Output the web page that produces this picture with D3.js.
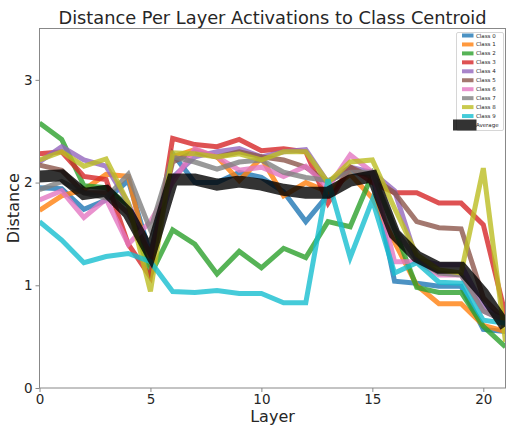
<!DOCTYPE html>
<html>
<head>
<meta charset="utf-8">
<script src="https://cdn.jsdelivr.net/npm/d3@7"></script>
<style>
  html, body { margin: 0; padding: 0; background: #fff; }
  svg { display: block; font-family: "DejaVu Sans", sans-serif; }
</style>
</head>
<body>
<svg id="chart" width="507" height="425"></svg>
<script>
// Layer index along the network
const layers = d3.range(0, 22);

// Distance of each class's layer activations to its centroid
const class0 = [1.95, 1.94, 1.74, 1.83, 2.02, 1.30, 2.28, 2.00, 2.00, 2.10, 2.05, 1.91, 1.62, 1.88, 2.10, 2.08, 1.04, 1.02, 0.99, 0.99, 0.57, 0.55];
const class1 = [1.73, 1.87, 1.93, 2.08, 2.06, 1.18, 2.25, 2.32, 2.25, 2.02, 2.24, 1.87, 2.00, 1.91, 2.08, 1.85, 1.42, 1.00, 0.82, 0.82, 0.61, 0.55];
const class2 = [2.58, 2.42, 1.97, 1.95, 1.78, 1.10, 1.54, 1.40, 1.11, 1.33, 1.17, 1.36, 1.27, 1.62, 1.57, 2.08, 1.55, 0.98, 0.93, 0.93, 0.60, 0.40];
const class3 = [2.28, 2.30, 2.06, 2.03, 1.40, 1.08, 2.43, 2.37, 2.35, 2.42, 2.31, 2.33, 2.30, 1.80, 2.15, 2.00, 1.90, 1.90, 1.80, 1.80, 1.59, 0.71];
const class4 = [2.20, 2.35, 2.22, 2.16, 1.80, 1.30, 2.05, 2.25, 2.30, 2.33, 2.25, 2.30, 2.32, 2.00, 2.15, 2.10, 1.92, 1.25, 1.20, 1.20, 0.80, 0.65];
const class5 = [2.17, 2.12, 1.90, 1.90, 1.70, 1.30, 2.20, 2.30, 2.25, 2.30, 2.25, 2.22, 2.15, 2.00, 2.15, 2.05, 1.90, 1.62, 1.56, 1.55, 0.88, 0.65];
const class6 = [1.83, 1.92, 1.66, 1.84, 1.40, 1.62, 2.00, 2.33, 2.25, 2.12, 2.15, 2.06, 2.16, 1.95, 2.27, 2.10, 1.23, 1.23, 1.10, 1.10, 0.75, 0.65];
const class7 = [1.93, 2.01, 1.90, 1.85, 2.08, 1.54, 2.25, 2.20, 2.13, 2.20, 2.22, 2.10, 2.05, 2.02, 2.10, 2.10, 1.55, 1.25, 1.12, 1.10, 0.75, 0.65];
const class8 = [2.22, 2.30, 2.16, 2.23, 1.80, 0.94, 2.29, 2.28, 2.25, 2.28, 2.22, 2.30, 2.30, 2.00, 2.20, 2.22, 1.75, 1.30, 1.15, 1.12, 2.14, 0.45];
const class9 = [1.62, 1.44, 1.22, 1.28, 1.31, 1.23, 0.94, 0.93, 0.95, 0.92, 0.92, 0.83, 0.83, 2.03, 1.27, 1.83, 1.12, 1.22, 1.03, 1.02, 0.66, 0.63];
const average = [2.06, 2.07, 1.89, 1.92, 1.70, 1.31, 2.03, 2.03, 1.98, 2.01, 1.98, 1.93, 1.90, 1.90, 2.02, 2.06, 1.50, 1.28, 1.17, 1.17, 0.92, 0.60];

const seriesNames = ["Class 0", "Class 1", "Class 2", "Class 3", "Class 4", "Class 5", "Class 6", "Class 7", "Class 8", "Class 9", "Average"];
const seriesValues = [class0, class1, class2, class3, class4, class5, class6, class7, class8, class9, average];
const seriesColors = ["#1f77b4", "#ff7f0e", "#2ca02c", "#d62728", "#9467bd", "#8c564b", "#e377c2", "#7f7f7f", "#bcbd22", "#17becf", "#000000"];

const xTicks = [0, 5, 10, 15, 20];
const yTicks = [0, 1, 2, 3];

const svg = d3.select("#chart");
const margin = { left: 39.5, right: 1.5, top: 28.5, bottom: 37 };
const W = 507, H = 425;
const plotW = W - margin.left - margin.right;
const plotH = H - margin.top - margin.bottom;

const x = d3.scaleLinear().domain([0, 21]).range([margin.left, margin.left + plotW]);
const y = d3.scaleLinear().domain([0, 3.5]).range([margin.top + plotH, margin.top]);

svg.append("defs").append("clipPath").attr("id", "plotClip")
  .append("rect")
  .attr("x", margin.left).attr("y", margin.top)
  .attr("width", plotW).attr("height", plotH);

// Series lines
const line = d3.line().x((d, i) => x(layers[i])).y(d => y(d));
const plot = svg.append("g").attr("clip-path", "url(#plotClip)");
seriesValues.forEach((vals, k) => {
  const isAvg = seriesNames[k] === "Average";
  plot.append("path")
    .datum(vals)
    .attr("d", line)
    .attr("fill", "none")
    .attr("stroke", seriesColors[k])
    .attr("stroke-opacity", 0.8)
    .attr("stroke-width", isAvg ? 12 : 5)
    .attr("stroke-linejoin", "miter")
    .attr("stroke-miterlimit", 4);
});

// Frame
svg.append("rect")
  .attr("x", margin.left).attr("y", margin.top)
  .attr("width", plotW).attr("height", plotH)
  .attr("fill", "none").attr("stroke", "#888").attr("stroke-width", 1);

// Axes
const xAxis = svg.append("g")
  .attr("transform", `translate(0,${margin.top + plotH})`)
  .call(d3.axisBottom(x).tickValues(xTicks).tickSize(4).tickPadding(2).tickFormat(d3.format("d")));
const yAxis = svg.append("g")
  .attr("transform", `translate(${margin.left},0)`)
  .call(d3.axisLeft(y).tickValues(yTicks).tickSize(4).tickPadding(3).tickFormat(d3.format("d")));
[xAxis, yAxis].forEach(g => {
  g.select(".domain").remove();
  g.selectAll(".tick line").attr("stroke", "#888");
  g.selectAll(".tick text")
    .attr("fill", "#262626")
    .style("font-family", "'DejaVu Sans', sans-serif")
    .style("font-size", "13.5px");
});

// Title and axis labels
svg.append("text")
  .attr("x", margin.left + plotW / 2).attr("y", 24)
  .attr("text-anchor", "middle")
  .attr("fill", "#262626")
  .style("font-size", "17.8px")
  .text("Distance Per Layer Activations to Class Centroid");
svg.append("text")
  .attr("x", margin.left + plotW / 2).attr("y", 421.5)
  .attr("text-anchor", "middle")
  .attr("fill", "#262626")
  .style("font-size", "16px")
  .text("Layer");
svg.append("text")
  .attr("transform", `translate(19,${margin.top + plotH / 2}) rotate(-90)`)
  .attr("text-anchor", "middle")
  .attr("fill", "#262626")
  .style("font-size", "16px")
  .text("Distance");

// Legend
const lg = svg.append("g");
const lgX = 456.5, lgY = 32.5, lgW = 47, lgH = 98;
lg.append("rect")
  .attr("x", lgX).attr("y", lgY).attr("width", lgW).attr("height", lgH)
  .attr("fill", "#fff").attr("fill-opacity", 0.8)
  .attr("stroke", "#ccc").attr("stroke-width", 0.8).attr("rx", 1.5);
seriesNames.forEach((name, k) => {
  const isAvg = name === "Average";
  const ry = 35.5 + k * 8.95;
  lg.append("line")
    .attr("x1", isAvg ? 453 : 462).attr("x2", isAvg ? 476.5 : 473.5)
    .attr("y1", ry).attr("y2", ry)
    .attr("stroke", seriesColors[k])
    .attr("stroke-opacity", 0.8)
    .attr("stroke-width", isAvg ? 11 : 4);
  lg.append("text")
    .attr("x", 476).attr("y", ry + 2)
    .attr("fill", "#262626")
    .style("font-size", "5.5px")
    .text(name);
});
</script>
</body>
</html>
